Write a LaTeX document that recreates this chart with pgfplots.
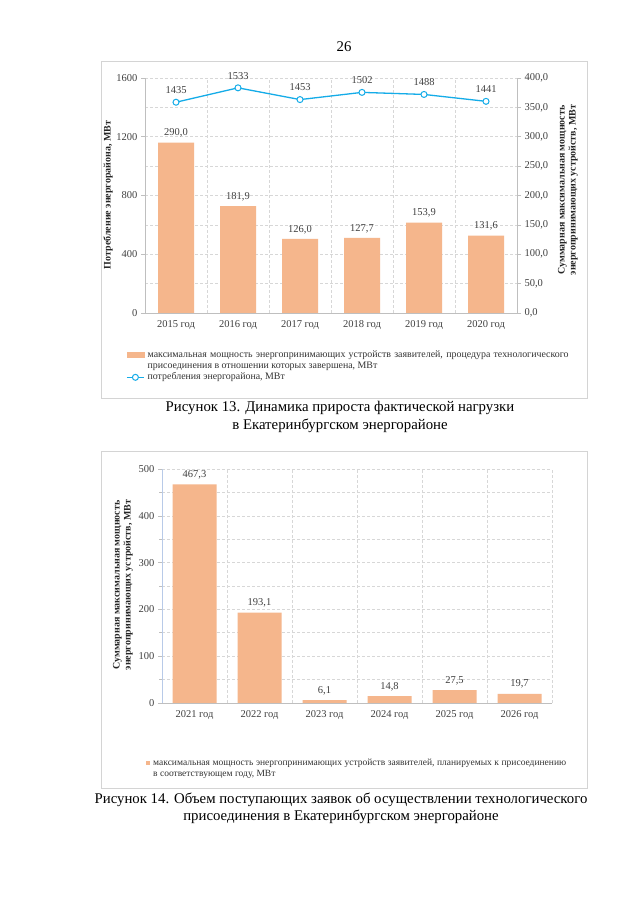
\documentclass[border=0pt]{standalone}
\usepackage{fontspec}
\setmainfont{Liberation Serif}
\usepackage{pgfplots}
\pgfplotsset{compat=1.18}

\definecolor{barc}{RGB}{245,182,140}
\definecolor{linec}{RGB}{20,172,232}
\definecolor{axc}{RGB}{191,191,191}
\definecolor{gridc}{RGB}{215,215,215}
\definecolor{framec}{RGB}{212,212,212}
\definecolor{blueax}{RGB}{184,202,232}

\newcommand{\chartfont}{\fontsize{10.5}{12}\selectfont}

\pgfplotsset{
  pagechart/.style={
    scale only axis,
    anchor=south west,
    xmin=-0.5, xmax=5.5,
    xtick={0,...,5},
    minor xtick={-0.5,0.5,...,5.5},
    xtick style={draw=none},
    tick align=outside,
    major tick length=4pt, minor tick length=3pt,
    tick style={axc, line width=0.6pt},
    axis line style={axc, line width=0.75pt},
    grid style={gridc, densely dashed, line width=0.6pt},
    ticklabel style={font=\chartfont, text=black!75},
    /pgf/number format/assume math mode=true,
    /pgf/number format/1000 sep={},
    clip=false,
  },
  pagelegend/.style={
    legend style={draw=none, fill=none, font=\fontsize{#1}{11}\selectfont, inner sep=0pt,
      row sep=2pt, column sep=3pt,
      cells={anchor=west},
      nodes={inner sep=0pt, text height=7pt, text depth=2.2pt, text=black!80}},
  },
}

\begin{document}
\begin{tikzpicture}
\useasboundingbox (0,0) rectangle (640pt,905pt);
\fill[white] (0,0) rectangle (640pt,905pt);

% page number
\node[font=\fontsize{14.8}{17}\selectfont] at (344pt,858pt) {26};

% ---------- Рисунок 13 ----------
\draw[framec, line width=0.8pt] (101pt,844pt) rectangle (587pt,507pt);

\begin{axis}[pagechart,
  at={(145pt,592pt)}, width=372pt, height=235pt,
  ybar, bar width=36pt,
  ymin=0, ymax=400, ytick={0,50,...,400},
  axis y line*=right, axis x line*=bottom,
  yticklabel style={/pgf/number format/.cd, fixed, fixed zerofill, precision=1, use comma},
  xticklabels={2015 год, 2016 год, 2017 год, 2018 год, 2019 год, 2020 год},
  xminorgrids, ymajorgrids,
  nodes near coords={\pgfmathprintnumber[fixed,fixed zerofill,precision=1,use comma]{\pgfplotspointmeta}},
  nodes near coords style={font=\chartfont, text=black!75, anchor=south, inner sep=0pt, yshift=5pt},
]
\addplot[fill=barc, draw=none] coordinates {
  (0,290.0) (1,181.9) (2,126.0) (3,127.7) (4,153.9) (5,131.6)};
\end{axis}

\begin{axis}[pagechart, pagelegend=9.9,
  at={(145pt,592pt)}, width=372pt, height=235pt,
  ymin=0, ymax=1600, ytick={0,400,...,1600},
  axis y line*=left, axis x line=none,
  legend style={at={(axis description cs:-0.051,-0.158)}, anchor=north west},
]
\addlegendimage{legend image code/.code={\fill[barc] (0cm,-0.09cm) rectangle (0.6cm,0.09cm);}}
\addlegendentry{\makebox[421pt][s]{максимальная мощность энергопринимающих устройств заявителей, процедура технологического}}
\addlegendimage{empty legend}
\addlegendentry{присоединения в отношении которых завершена, МВт}
\addplot[linec, line width=1.3pt, mark=*, mark size=3pt,
  mark options={fill=white, line width=1pt},
  nodes near coords, nodes near coords style={font=\chartfont, text=black!75, anchor=south, inner sep=0pt, yshift=8pt}]
  coordinates {(0,1435) (1,1533) (2,1453) (3,1502) (4,1488) (5,1441)};
\addlegendentry{потребления энергорайона, МВт}
\end{axis}

\node[rotate=90, font=\bfseries\fontsize{10}{11}\selectfont, text=black!85] at (108pt,710pt) {Потребление энергорайона, МВт};
\node[rotate=90, font=\bfseries\fontsize{10}{11}\selectfont, text=black!85, align=center] at (568pt,715pt)
  {Суммарная максимальная мощность\\энергопринимающих устройств, МВт};

\node[font=\fontsize{14.8}{17.5}\selectfont, align=center] at (340pt,488pt)
  {Рисунок 13. Динамика прироста фактической нагрузки\\в Екатеринбургском энергорайоне};

% ---------- Рисунок 14 ----------
\draw[framec, line width=0.8pt] (101pt,454pt) rectangle (587pt,117pt);

\begin{axis}[pagechart, pagelegend=9.5,
  at={(162pt,202pt)}, width=390pt, height=234pt,
  ybar, bar width=44pt,
  ymin=0, ymax=500, ytick={0,100,...,500}, minor ytick={50,150,...,450},
  axis y line*=left, axis x line*=bottom,
  y axis line style={blueax},
  xticklabels={2021 год, 2022 год, 2023 год, 2024 год, 2025 год, 2026 год},
  xminorgrids, ymajorgrids, yminorgrids,
  nodes near coords={\pgfmathprintnumber[fixed,fixed zerofill,precision=1,use comma]{\pgfplotspointmeta}},
  nodes near coords style={font=\chartfont, text=black!75, anchor=south, inner sep=0pt, yshift=5pt},
  legend style={at={(axis description cs:-0.041,-0.236)}, anchor=north west},
]
\addplot[fill=barc, draw=none,
  legend image code/.code={\fill[barc] (0pt,-2pt) rectangle (4pt,2pt);}]
  coordinates {(0,467.3) (1,193.1) (2,6.1) (3,14.8) (4,27.5) (5,19.7)};
\addlegendentry{\makebox[413pt][s]{максимальная мощность энергопринимающих устройств заявителей, планируемых к присоединению}}
\addlegendimage{empty legend}
\addlegendentry{в соответствующем году, МВт}
\end{axis}

\node[rotate=90, font=\bfseries\fontsize{10}{11}\selectfont, text=black!85, align=center] at (123pt,320pt)
  {Суммарная максимальная мощность\\энергопринимающих устройств, МВт};

\node[font=\fontsize{14.8}{17}\selectfont, align=center] at (341pt,97pt)
  {Рисунок 14. Объем поступающих заявок об осуществлении технологического\\присоединения в Екатеринбургском энергорайоне};
\end{tikzpicture}
\end{document}
